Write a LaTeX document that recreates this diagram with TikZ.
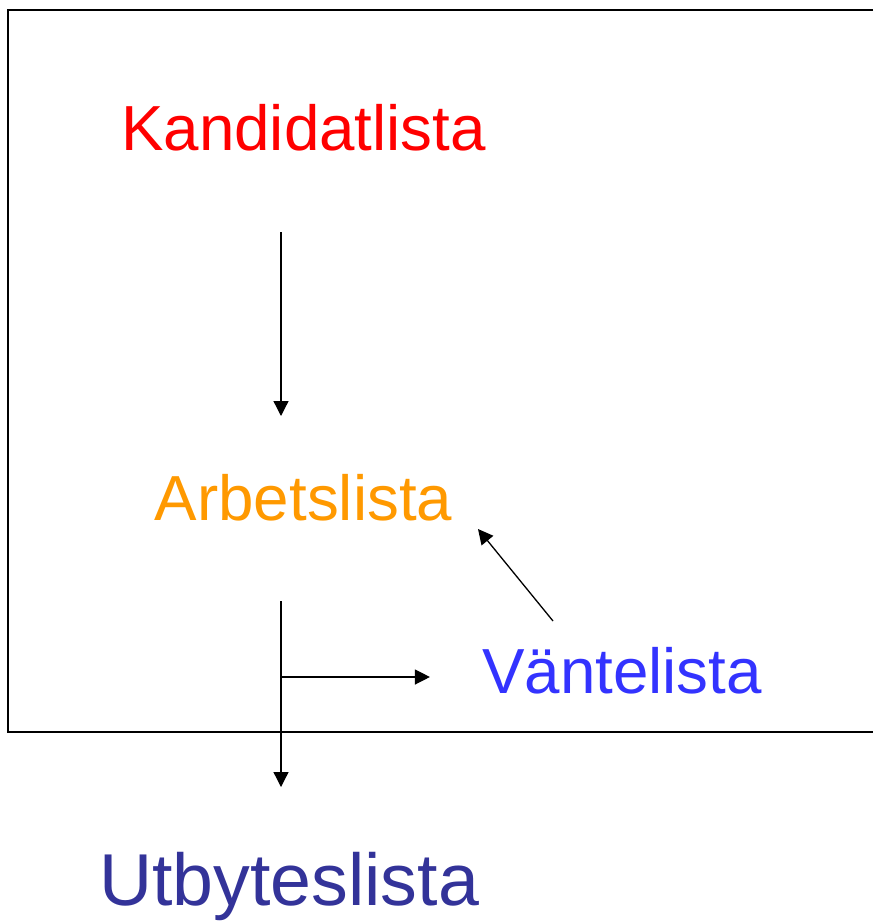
\documentclass[tikz,border=0pt]{standalone}
\usepackage{fontspec}
\setmainfont{Liberation Sans}
\usetikzlibrary{arrows.meta}
\definecolor{kandred}{HTML}{FF0000}
\definecolor{arborange}{HTML}{FF9900}
\definecolor{vantblue}{HTML}{3333FF}
\definecolor{utbblue}{HTML}{333399}

\begin{document}
\begin{tikzpicture}[x = 1pt, y = -1pt,
            lista/.style = {inner sep=0pt, anchor=base, font=\fontsize{63.7}{64}\selectfont},
            arr/.style = {line width=1.3pt, -{Triangle[length=15pt,width=15pt]}}]
            \useasboundingbox (0,0) rectangle (873,921);
            %\draw (8,10) rectangle (873,732);
            \draw[line width=2pt] (873,10) -- (8,10) -- (8,732) -- (873,732);

            \node[lista, text=kandred] (kand) at (303.5,150) {Kandidatlista};
            \node[lista, text=arborange] (arb) at (303.5,520) {Arbetslista};
            \node[lista, text=vantblue] (vant) at (622,693) {Väntelista};
            \node[lista, text=utbblue, font=\fontsize{73.5}{74}\selectfont] (utb) at (289,905) {Utbyteslista};

            \coordinate (stem) at (281,0);
            \coordinate (fork) at (281,677);

            \draw[arr] ([yshift=-82pt]kand.base -| stem) -- ([yshift=104pt]arb.base -| stem);
            \draw[arr] ([yshift=-81pt]arb.base -| stem) -- ([yshift=118pt]utb.base -| stem);
            \draw[arr] (fork) -- ([xshift=-52pt]vant.west |- fork);
            \draw[arr] ([xshift=-69pt,yshift=72pt]vant.base) -- ([xshift=174.5pt,yshift=-9pt]arb.base);

            \end{tikzpicture}
\end{document}
